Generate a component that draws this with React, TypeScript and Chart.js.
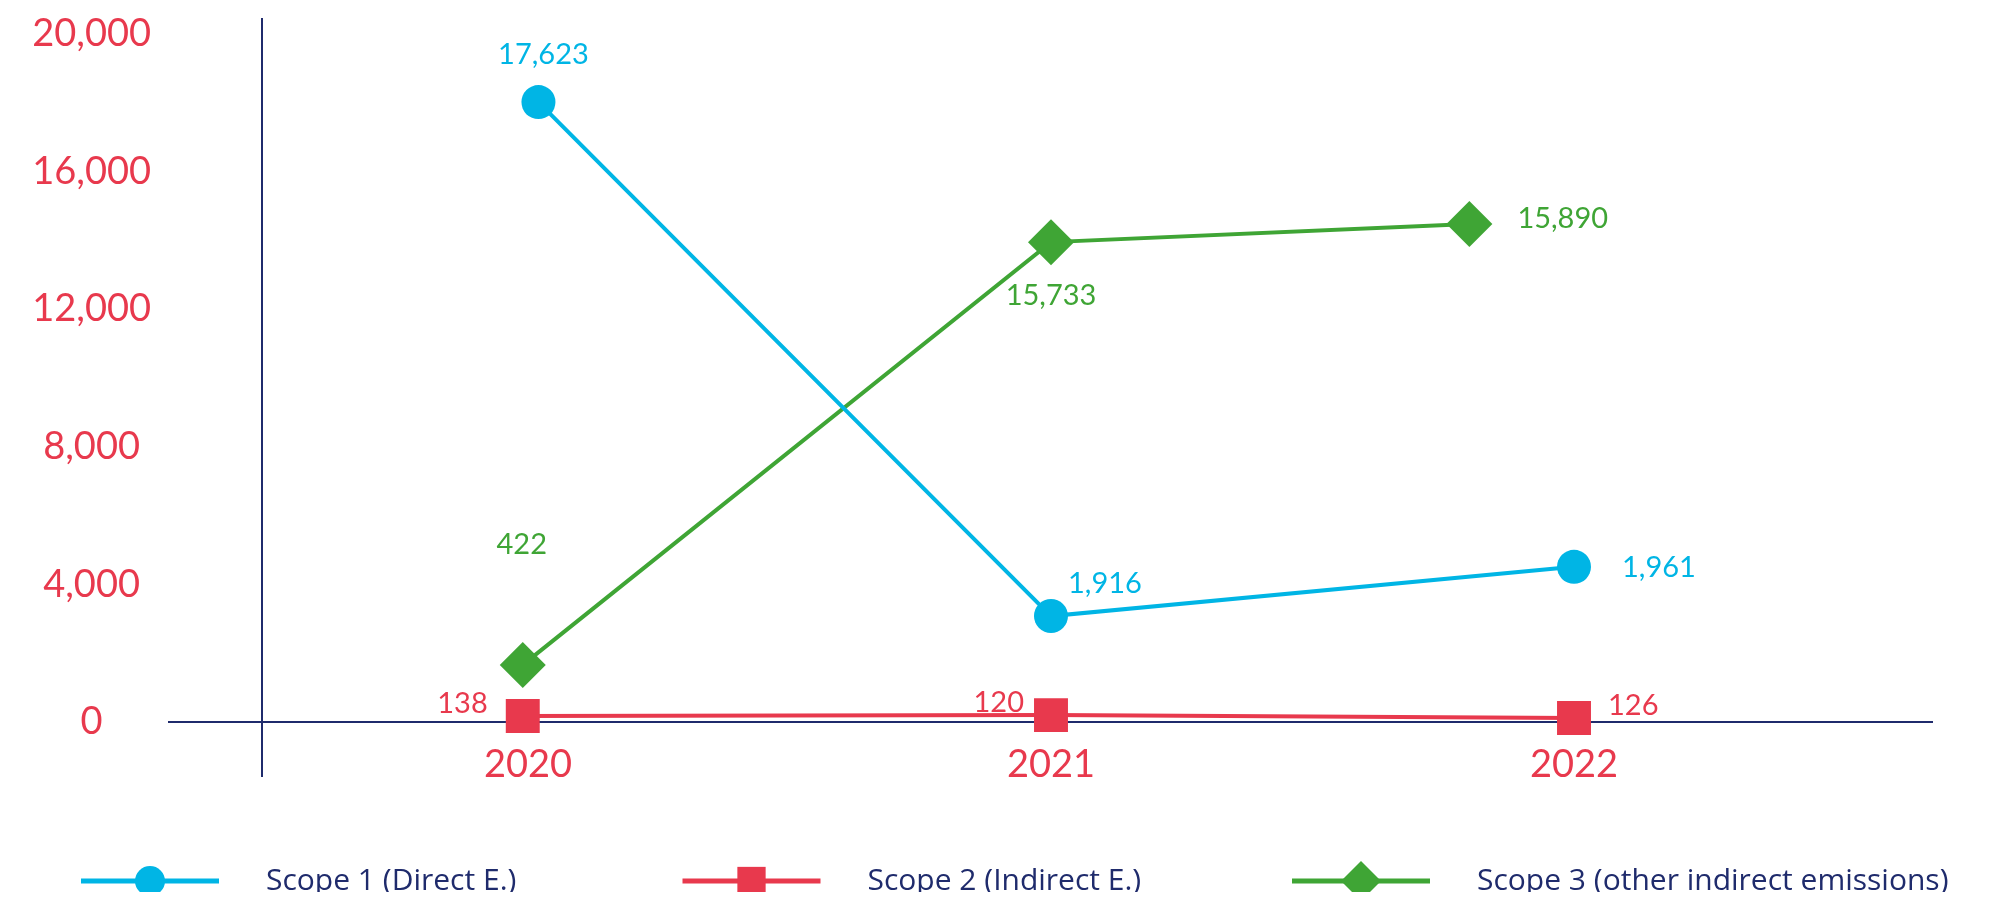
import React, { useEffect, useRef } from 'react';
import { Chart, registerables } from 'chart.js';

Chart.register(...registerables);

// ---------- data ----------
const years = [2020, 2021, 2022];
const yTickValues = [0, 4000, 8000, 12000, 16000, 20000];
const seriesNames = ['Scope 1 (Direct E.)', 'Scope 2 (Indirect E.)', 'Scope 3 (other indirect emissions)'];

// positions as drawn in the picture (x = year position, y = plotted value)
const scope1X = [2020.02, 2021, 2022];
const scope1Y = [18020, 3080, 4510];
const scope2X = [2019.99, 2021, 2022];
const scope2Y = [175, 200, 115];
const scope3X = [2019.99, 2021, 2021.8];
const scope3Y = [1660, 13950, 14480];

// value labels printed next to the points
const scope1Labels = ['17,623', '1,916', '1,961'];
const scope2Labels = ['138', '120', '126'];
const scope3Labels = ['422', '15,733', '15,890'];

// ---------- styles ----------
const CYAN = '#00B5E5';
const RED = '#E8394D';
const GREEN = '#3FA535';
const NAVY = '#1F2B6C';
const FONT = 'Lato, "Open Sans", sans-serif';
const LEGEND_FONT = '"Open Sans", Lato, sans-serif';

const X_MIN = 2019.3136;
const X_MAX = 2022.6845;
const Y_AXIS_AT = 2019.4914; // where the vertical axis line crosses
const Y_MIN = -1599;
const Y_MAX = 19884;
const AXIS_TOP_VALUE = 20465; // vertical axis line reaches a bit above the top tick

// label offsets relative to each point: [dx, dy, align]
const LABEL_OFFSETS: [number, number, CanvasTextAlign][][] = [
  [[5, -47, 'center'], [17, -32, 'left'], [48, 1, 'left']],
  [[-35, -12, 'right'], [-27, -12, 'right'], [34, -12, 'left']],
  [[-1, -120, 'center'], [0, 54, 'center'], [48, -5, 'left']],
];
const LEGEND_X = [73, 674.5, 1284];

function toPoints(xs: number[], ys: number[]) {
  return xs.map((x, i) => ({ x, y: ys[i] }));
}

function drawMarker(ctx: CanvasRenderingContext2D, style: string, x: number, y: number, r: number) {
  ctx.beginPath();
  if (style === 'circle') {
    ctx.arc(x, y, r, 0, Math.PI * 2);
  } else if (style === 'rect') {
    const s = r * Math.SQRT1_2;
    ctx.rect(x - s, y - s, 2 * s, 2 * s);
  } else {
    ctx.moveTo(x - r, y);
    ctx.lineTo(x, y - r);
    ctx.lineTo(x + r, y);
    ctx.lineTo(x, y + r);
    ctx.closePath();
  }
  ctx.fill();
}

const verticalAxisPlugin = {
  id: 'verticalAxisLine',
  beforeDatasetsDraw(chart: any) {
    const ctx = chart.ctx as CanvasRenderingContext2D;
    const xs = chart.scales.x;
    const ys = chart.scales.y;
    const x = Math.round(xs.getPixelForValue(Y_AXIS_AT));
    ctx.save();
    ctx.strokeStyle = NAVY;
    ctx.lineWidth = 2;
    ctx.beginPath();
    ctx.moveTo(x, ys.getPixelForValue(AXIS_TOP_VALUE));
    ctx.lineTo(x, chart.chartArea.bottom);
    ctx.stroke();
    ctx.restore();
  },
};

const valueLabelPlugin = {
  id: 'valueLabels',
  afterDatasetsDraw(chart: any) {
    const ctx = chart.ctx as CanvasRenderingContext2D;
    chart.data.datasets.forEach((ds: any, di: number) => {
      const meta = chart.getDatasetMeta(di);
      meta.data.forEach((pt: any, i: number) => {
        const [dx, dy, align] = LABEL_OFFSETS[di][i];
        ctx.save();
        ctx.fillStyle = ds.borderColor;
        ctx.font = `29px ${FONT}`;
        ctx.textAlign = align;
        ctx.textBaseline = 'middle';
        ctx.fillText(ds.valueLabels[i], pt.x + dx, pt.y + dy);
        ctx.restore();
      });
    });
  },
};

const legendPlugin = {
  id: 'lineLegend',
  afterDraw(chart: any) {
    const ctx = chart.ctx as CanvasRenderingContext2D;
    const y = chart.height - 19;
    chart.data.datasets.forEach((ds: any, i: number) => {
      const x0 = LEGEND_X[i];
      ctx.save();
      ctx.lineCap = 'butt';
      ctx.strokeStyle = ds.borderColor;
      ctx.lineWidth = 5;
      ctx.beginPath();
      ctx.moveTo(x0, y);
      ctx.lineTo(x0 + 138, y);
      ctx.stroke();
      ctx.fillStyle = ds.borderColor;
      const r = ds.pointStyle === 'circle' ? 15 : 20;
      drawMarker(ctx, ds.pointStyle, x0 + 69, y, r);
      ctx.fillStyle = NAVY;
      ctx.font = `30px ${LEGEND_FONT}`;
      ctx.textAlign = 'left';
      ctx.textBaseline = 'middle';
      ctx.fillText(ds.label, x0 + 185, y);
      ctx.restore();
    });
  },
};

export default function App() {
  const canvasRef = useRef<HTMLCanvasElement | null>(null);

  useEffect(() => {
    if (!canvasRef.current) return;
    Chart.defaults.font.family = FONT;
    const chart = new Chart(canvasRef.current, {
      type: 'line',
      data: {
        datasets: [
          {
            label: seriesNames[0],
            data: toPoints(scope1X, scope1Y),
            valueLabels: scope1Labels,
            borderColor: CYAN,
            backgroundColor: CYAN,
            pointBackgroundColor: CYAN,
            pointStyle: 'circle',
            pointRadius: 17,
            pointBorderWidth: 0,
            borderWidth: 4,
            tension: 0,
            clip: false,
          },
          {
            label: seriesNames[1],
            data: toPoints(scope2X, scope2Y),
            valueLabels: scope2Labels,
            borderColor: RED,
            backgroundColor: RED,
            pointBackgroundColor: RED,
            pointStyle: 'rect',
            pointRadius: 24,
            pointBorderWidth: 0,
            borderWidth: 4,
            tension: 0,
            clip: false,
          },
          {
            label: seriesNames[2],
            data: toPoints(scope3X, scope3Y),
            valueLabels: scope3Labels,
            borderColor: GREEN,
            backgroundColor: GREEN,
            pointBackgroundColor: GREEN,
            pointStyle: 'rectRot',
            pointRadius: 23,
            pointBorderWidth: 0,
            borderWidth: 4,
            tension: 0,
            clip: false,
          },
        ] as any,
      },
      options: {
        animation: false,
        responsive: true,
        maintainAspectRatio: false,
        layout: { padding: { top: 30, right: 68, bottom: 123, left: 0 } },
        plugins: {
          legend: { display: false },
          tooltip: { enabled: false },
        },
        scales: {
          x: {
            type: 'linear',
            min: X_MIN,
            max: X_MAX,
            position: { y: 0 } as any,
            afterBuildTicks: (s: any) => {
              s.ticks = years.map((v) => ({ value: v }));
            },
            ticks: {
              callback: (v: any) => String(v),
              color: RED,
              font: { size: 38, family: FONT },
              padding: 20,
              autoSkip: false,
              maxRotation: 0,
            },
            grid: { drawTicks: false, color: 'rgba(0,0,0,0)' },
            border: { display: true, color: NAVY, width: 2 },
          },
          y: {
            type: 'linear',
            min: Y_MIN,
            max: Y_MAX,
            position: 'left',
            afterBuildTicks: (s: any) => {
              s.ticks = yTickValues.map((v) => ({ value: v }));
            },
            afterFit: (s: any) => {
              s.width = 161;
              s.paddingTop = 0;
              s.paddingBottom = 0;
            },
            ticks: {
              callback: (v: any) => Number(v).toLocaleString('en-US'),
              color: RED,
              font: { size: 38, family: FONT, lineHeight: 0.3 },
              padding: 18,
              crossAlign: 'center',
              autoSkip: false,
            },
            grid: { display: false, drawTicks: false },
            border: { display: false },
          },
        },
      } as any,
      plugins: [verticalAxisPlugin, valueLabelPlugin, legendPlugin],
    });
    return () => chart.destroy();
  }, []);

  return (
    <div style={{ position: 'relative', width: '1992px', height: '892px', marginBottom: '-8px' }}>
      <canvas ref={canvasRef} />
    </div>
  );
}
